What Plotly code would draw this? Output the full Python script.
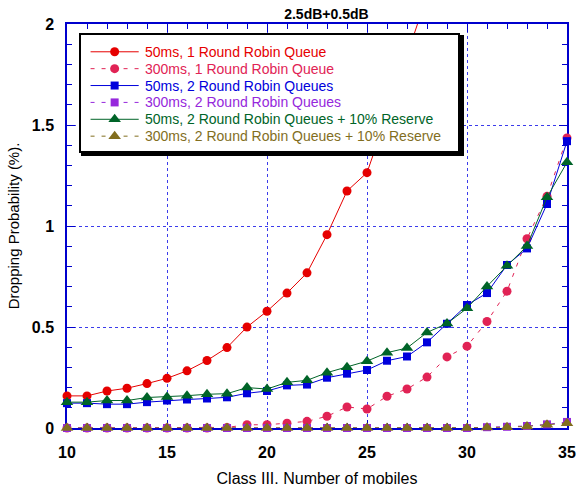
import plotly.graph_objects as go

mobiles = list(range(10, 36))
red_x = list(range(10, 29))
red_50_1rr = [0.159, 0.159, 0.183, 0.197, 0.220, 0.246, 0.283, 0.334, 0.398, 0.500,
              0.578, 0.668, 0.768, 0.957, 1.173, 1.264, 1.55, 1.85, 2.14]
pink_300_1rr = [0, 0, 0, 0, 0, 0, 0, 0, 0.003, 0.016, 0.016, 0.024, 0.033, 0.058, 0.104,
                0.094, 0.157, 0.193, 0.252, 0.352, 0.405, 0.527, 0.677, 0.937, 1.147, 1.436]
blue_50_2rr = [0.123, 0.123, 0.118, 0.118, 0.128, 0.136, 0.141, 0.146, 0.152, 0.172,
               0.183, 0.211, 0.215, 0.249, 0.269, 0.287, 0.333, 0.354, 0.424, 0.516,
               0.609, 0.668, 0.807, 0.889, 1.109, 1.42]
purple_300_2rr = [0]*21 + [0.004, 0.006, 0.010, 0.018, 0.030]
green_50_2rr_res = [0.128, 0.128, 0.136, 0.136, 0.151, 0.154, 0.160, 0.167, 0.170, 0.200,
                    0.193, 0.226, 0.236, 0.274, 0.301, 0.331, 0.373, 0.396, 0.473, 0.517,
                    0.593, 0.701, 0.803, 0.901, 1.142, 1.315]
olive_300_2rr_res = [0]*21 + [0.002, 0.004, 0.008, 0.016, 0.024]

names = ["50ms, 1 Round Robin Queue", "300ms, 1 Round Robin Queue",
         "50ms, 2 Round Robin Queues", "300ms, 2 Round Robin Queues",
         "50ms, 2 Round Robin Queues + 10% Reserve", "300ms, 2 Round Robin Queues + 10% Reserve"]

RED = "rgb(230,0,0)"
PINK = "rgb(225,35,85)"
BLUE = "rgb(0,0,220)"
PURPLE = "rgb(150,40,220)"
GREEN = "rgb(0,100,40)"
OLIVE = "rgb(130,110,30)"
AX = "rgb(0,0,205)"
DASH = "4px,7px"
FONT = "Liberation Sans"

W, H = 586, 495
ML, MR, MT, MB = 67, 10, 24, 64
PW, PH = W - ML - MR, H - MT - MB

fig = go.Figure()
series = [
    (red_x, red_50_1rr, names[0], RED, "solid", "circle", 9),
    (mobiles, pink_300_1rr, names[1], PINK, DASH, "circle", 9),
    (mobiles, blue_50_2rr, names[2], BLUE, "solid", "square", 8),
    (mobiles, purple_300_2rr, names[3], PURPLE, DASH, "square", 8),
    (mobiles, green_50_2rr_res, names[4], GREEN, "solid", "triangle-up", 11),
    (mobiles, olive_300_2rr_res, names[5], OLIVE, DASH, "triangle-up", 11),
]
for xs, ys, nm, col, dash, sym, sz in series:
    sizes = [sz if v <= 2 else 0 for v in ys]
    fig.add_trace(go.Scatter(
        x=xs, y=ys, name=nm, mode="lines+markers", showlegend=False,
        line=dict(color=col, width=1, dash=dash),
        marker=dict(color=col, symbol=sym, size=sizes, opacity=1, line=dict(width=0)),
        cliponaxis=False))

axis_common = dict(
    showline=True, linecolor=AX, linewidth=1.5, mirror="allticks", layer="below traces",
    ticks="inside", tickcolor=AX, ticklen=8, tickwidth=1,
    showgrid=True, gridcolor="rgb(60,60,235)", griddash="3px,3px", gridwidth=1,
    zeroline=False,
    tickfont=dict(family=FONT, size=16, color="black", weight="bold"),
)
xaxis = dict(range=[10, 35], dtick=5, tick0=10, ticklabelstandoff=9,
             minor=dict(dtick=1, ticks="inside", ticklen=5, tickcolor=AX, showgrid=False),
             title=dict(text="Class III. Number of mobiles",
                        font=dict(family=FONT, size=16, color="black"), standoff=13),
             **axis_common)
yaxis = dict(range=[0, 2], dtick=0.5, tick0=0, ticklabelstandoff=8,
             minor=dict(dtick=0.1, ticks="inside", ticklen=5, tickcolor=AX, showgrid=False),
             title=dict(text="Dropping Probability (%).",
                        font=dict(family=FONT, size=15, color="black"), standoff=9),
             **axis_common)

# ---- legend box as an inset subplot (pixel coordinates inside the box) ----
BL, BR, BT, BB = 81, 465, 35, 152
bw, bh = BR - BL, BB - BT
dom_x = [(BL - ML) / PW, (BR - ML) / PW]
dom_y = [(H - MB - BB) / PH, (H - MB - BT) / PH]
plain = dict(showgrid=False, zeroline=False, showticklabels=False, ticks="", fixedrange=True)

fig.update_layout(
    xaxis=xaxis, yaxis=yaxis,
    # shadow (drawn first)
    xaxis2=dict(domain=dom_x, range=[0, bw], anchor="y2", showline=True, mirror=False,
                linecolor="black", linewidth=5, side="bottom", **plain),
    yaxis2=dict(domain=dom_y, range=[bh, 0], anchor="x2", showline=True, mirror=False,
                linecolor="black", linewidth=6, side="right", **plain),
    # legend box with content
    xaxis3=dict(domain=dom_x, range=[0, bw], anchor="y3", showline=True, mirror=True,
                linecolor="black", linewidth=2, **plain),
    yaxis3=dict(domain=dom_y, range=[bh, 0], anchor="x3", showline=True, mirror=True,
                linecolor="black", linewidth=2, **plain),
)
fig.add_trace(go.Scatter(x=[None], y=[None], xaxis="x2", yaxis="y2", showlegend=False,
                         hoverinfo="skip"))

row0, row_step = 17, 17
lx0, lx1, tx = 10, 59, 63
for i, (xs, ys, nm, col, dash, sym, sz) in enumerate(series):
    ry = row0 + row_step * i
    fig.add_trace(go.Scatter(
        x=[lx0, (lx0 + lx1) / 2, lx1], y=[ry, ry, ry], xaxis="x3", yaxis="y3",
        mode="lines+markers", showlegend=False, hoverinfo="skip", cliponaxis=False,
        line=dict(color=col, width=1, dash=dash),
        marker=dict(color=col, symbol=sym, size=[0, sz, 0], opacity=1, line=dict(width=0))))
    fig.add_annotation(x=tx, y=ry, xref="x3", yref="y3", text=nm, showarrow=False,
                       xanchor="left", yanchor="middle",
                       font=dict(family=FONT, size=14, color=col))

fig.update_layout(
    width=W, height=H,
    margin=dict(l=ML, r=MR, t=MT, b=MB),
    plot_bgcolor="white", paper_bgcolor="white",
    title=dict(text="<b>2.5dB+0.5dB</b>", x=0.557, xanchor="center", y=0.972, yanchor="middle",
               font=dict(family=FONT, size=14, color="black")),
    showlegend=False,
)
fig.write_html("out.html")
